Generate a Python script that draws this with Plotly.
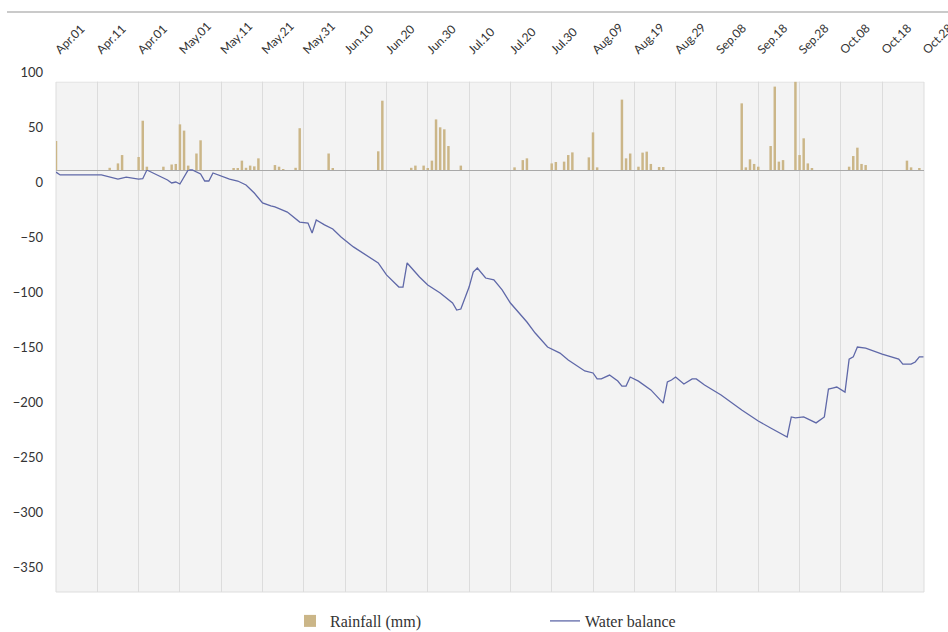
import pandas as pd
import plotly.graph_objects as go

# ---------------- data ----------------
BASE_DATE = "2023-04-01"

TICK_DAYS = [0, 10, 20, 30, 40, 50, 60, 70, 80, 90, 100, 110, 120, 130, 140,
             150, 160, 170, 180, 190, 200, 210]
TICK_LABELS = ["Apr.01", "Apr.11", "Apr.01", "May.01", "May.11", "May.21", "May.31",
               "Jun.10", "Jun.20", "Jun.30", "Jul.10", "Jul.20", "Jul.30", "Aug.09",
               "Aug.19", "Aug.29", "Sep.08", "Sep.18", "Sep.28", "Oct.08", "Oct.18",
               "Oct.28"]

Y_TICKS = [100, 50, 0, -50, -100, -150, -200, -250, -300, -350]

RAIN_DAYS = [0, 13, 15, 16, 20, 21, 22, 26, 28, 29, 30, 31, 32, 34, 35,
             43, 44, 45, 46, 47, 48, 49, 53, 54, 55, 58, 59, 66, 67, 78, 79,
             86, 87, 89, 90, 91, 92, 93, 94, 95, 98,
             111, 113, 114, 120, 121, 123, 124, 125, 129, 130, 131,
             137, 138, 139, 141, 142, 143, 144, 146, 147,
             166, 167, 168, 169, 170, 173, 174, 175, 176, 179, 180, 181, 182, 183,
             192, 193, 194, 195, 196, 206, 207, 209]
RAIN_MM = [26.4, 2.0, 6.0, 13.6, 11.8, 44.8, 3.0, 3.0, 5.0, 5.5, 41.5, 35.8, 4.0, 15.0, 27.0,
           1.0, 1.5, 8.5, 2.0, 4.0, 3.3, 10.6, 4.5, 3.0, 0.6, 2.0, 38.0, 15.0, 1.0, 17.0, 63.0,
           2.0, 4.0, 4.0, 1.5, 8.5, 46.0, 38.8, 37.0, 21.8, 4.0,
           2.4, 9.0, 10.6, 6.0, 7.3, 7.6, 13.6, 16.0, 11.5, 34.2, 2.4,
           64.0, 10.6, 15.0, 3.0, 15.8, 16.7, 5.5, 2.7, 2.7,
           60.6, 2.4, 9.7, 5.5, 3.0, 21.8, 75.8, 7.6, 9.0, 80.3, 13.6, 28.8, 6.0, 1.0,
           3.0, 12.7, 20.3, 5.5, 4.5, 8.5, 2.4, 1.5]

BAL_DAYS = [0, 1, 11, 13, 15, 17, 19, 20, 21, 22, 24, 27, 28, 29, 30, 32, 33, 35, 36, 37,
            38, 40, 42, 44, 46, 48, 50, 52, 53, 56, 59, 61, 62, 63, 65, 67, 69, 72, 75, 78,
            80, 83, 84, 85, 88, 90, 93, 96, 97, 98, 100, 101, 102, 104, 106, 108, 110, 114,
            116, 119, 122, 124, 128, 130, 131, 132, 134, 136, 137, 138, 139, 141, 144, 147,
            148, 149, 150, 152, 154, 155, 157, 161, 166, 170, 173, 177, 178, 179, 181, 184,
            186, 187, 188, 189, 191, 192, 193, 194, 196, 200, 204, 205, 207, 208, 209, 210]
BAL_VALUES = [9.0, 6.4, 6.4, 4.8, 2.7, 4.5, 3.6, 2.7, 3.0, 10.9, 7.3, 1.8, -0.9, 0.0, -1.8,
              10.9, 10.9, 7.3, 0.9, 0.9, 8.2, 5.5, 2.7, 0.9, -2.7, -10.0, -19.0, -21.8, -22.7,
              -27.3, -36.4, -37.3, -46.4, -34.5, -39.0, -42.7, -50.0, -59.0, -66.4, -73.6,
              -84.5, -95.5, -95.5, -73.6, -86.4, -93.6, -100.9, -110.0, -116.4, -115.5, -95.5,
              -81.8, -78.2, -87.3, -89.0, -98.0, -110.0, -127.3, -137.3, -150.0, -155.5,
              -161.8, -171.8, -173.6, -179.0, -179.0, -175.5, -181.0, -185.5, -185.5, -177.3,
              -181.0, -189.0, -201.0, -181.8, -180.0, -177.3, -183.6, -179.0, -179.0, -184.5,
              -193.6, -207.3, -217.3, -223.6, -231.8, -213.6, -214.5, -213.6, -219.0, -213.6,
              -188.2, -187.3, -186.4, -191.0, -161.0, -159.0, -150.0, -151.0, -156.4, -161.0,
              -165.5, -165.5, -163.6, -159.0, -159.0]

GRID_ROWS = [0, -1, -2, -3, -4, -5, -6]

# ---------------- helpers ----------------
base = pd.Timestamp(BASE_DATE)
to_date = lambda days: [base + pd.Timedelta(days=d) for d in days]

W, H = 948, 632
ML, MR, MT, MB = 56, 24, 60, 40
PLOT_H = H - MT - MB  # 532 px
TOP_PX = MT
BOT_PX = H - MB
GREY_TOP_PX = 82


def frac(px):
    return (BOT_PX - px) / PLOT_H


# line axis: 0 at 182px, 1.1 px per unit
Z_LINE, S = 182, 1.1
y_range = [-(BOT_PX - Z_LINE) / S, (Z_LINE - TOP_PX) / S]
# bar axis: 0 at 170px
Z_BAR = 170
y2_range = [-(BOT_PX - Z_BAR) / S, (Z_BAR - TOP_PX) / S]
# grid axis: rows every 61.3 px starting at 198px
G0, GS = 198, 61.3
y3_range = [-(BOT_PX - G0) / GS, (G0 - TOP_PX) / GS]

FONT = "Lato, 'Open Sans', sans-serif"

fig = go.Figure()
fig.add_trace(go.Bar(
    x=to_date(RAIN_DAYS), y=RAIN_MM, name="Rainfall (mm)",
    marker=dict(color="#cbb688", line=dict(width=0)),
    yaxis="y2", xaxis="x",
))
fig.add_trace(go.Scatter(
    x=to_date(BAL_DAYS), y=BAL_VALUES, name="Water balance", mode="lines",
    line=dict(color="#5f68a8", width=1.3),
    yaxis="y", xaxis="x",
))

fig.update_layout(
    width=W, height=H,
    margin=dict(l=ML, r=MR, t=MT, b=MB, autoexpand=False),
    paper_bgcolor="white", plot_bgcolor="rgba(0,0,0,0)",
    bargap=0.4,
    showlegend=True,
    legend=dict(orientation="h", x=(290 - ML) / (W - ML - MR), xanchor="left",
                y=-(621 - BOT_PX) / PLOT_H,
                yanchor="middle", font=dict(family="'Liberation Serif', serif", size=16,
                                            color="#333"),
                entrywidth=210, bgcolor="rgba(0,0,0,0)"),
    xaxis=dict(
        type="date", side="top",
        range=[base, base + pd.Timedelta(hours=210 * 24 + 3)],
        tickmode="array", tickvals=to_date(TICK_DAYS), ticktext=TICK_LABELS,
        tickangle=-45, tickfont=dict(family=FONT, size=12, color="#333"),
        ticklabeloverflow="allow",
        showgrid=True, gridcolor="#dcdcdc", gridwidth=1,
        zeroline=False, showline=False, ticks="",
    ),
    yaxis=dict(
        range=y_range, tickmode="array", tickvals=Y_TICKS,
        tickfont=dict(family=FONT, size=13, color="#333"),
        showgrid=False, zeroline=False, showline=False, ticks="",
        ticklabelstandoff=12,
    ),
    yaxis2=dict(
        range=y2_range, overlaying="y", side="left", showticklabels=False,
        showgrid=False, zeroline=True, zerolinecolor="#a8a8a8", zerolinewidth=1,
        showline=False, ticks="",
    ),
    yaxis3=dict(
        range=y3_range, overlaying="y", side="right", showticklabels=False,
        tickmode="array", tickvals=GRID_ROWS,
        showgrid=True, gridcolor="#dcdcdc", gridwidth=1, zeroline=False,
        showline=False, ticks="", anchor="x",
    ),
    shapes=[
        dict(type="rect", xref="paper", yref="paper", x0=0, x1=1, y0=0,
             y1=frac(GREY_TOP_PX), fillcolor="#f3f3f3",
             line=dict(color="#dddddd", width=1), layer="below"),
        dict(type="rect", xref="paper", yref="paper", x0=-0.003, x1=1.003,
             y0=frac(GREY_TOP_PX - 0.6), y1=1.0, fillcolor="white",
             line=dict(width=0), layer="above"),
        dict(type="line", xref="paper", yref="paper",
             x0=(7 - ML) / (W - ML - MR), x1=(W - ML) / (W - ML - MR),
             y0=frac(12), y1=frac(12), line=dict(color="#b8b8b8", width=1.5),
             layer="above"),
    ],
)

fig.write_html("out.html", config={"displayModeBar": False},
               post_script="document.body.style.margin='0';")
